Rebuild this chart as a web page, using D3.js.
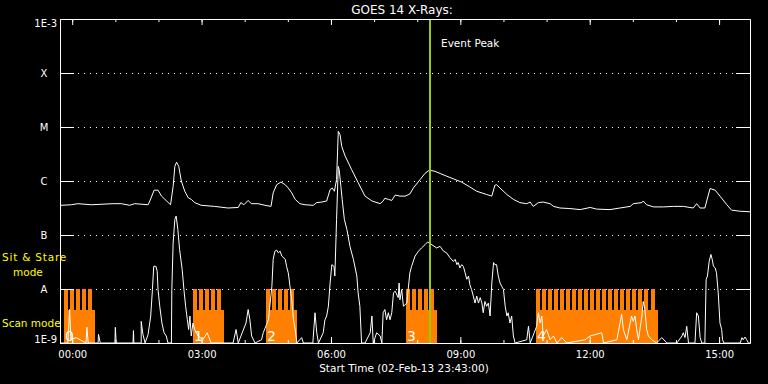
<!DOCTYPE html>
<html>
<head>
<meta charset="utf-8">
<script src="https://cdn.jsdelivr.net/npm/d3@7"></script>
<style>
  body { margin: 0; background: #000; }
</style>
</head>
<body>
<div id="chart"></div>
<script>
// hours relative to 00:00 on 03-Feb-13 (start 23:43 the day before)
const timeDomain = [-0.2833, 15.7167];
const hourTicks = [0, 1, 2, 3, 4, 5, 6, 7, 8, 9, 10, 11, 12, 13, 14, 15];
const labelHours = [0, 3, 6, 9, 12, 15];
const hourLabels = ["00:00", "03:00", "06:00", "09:00", "12:00", "15:00"];

const fluxTicks = [1e-9, 1e-8, 1e-7, 1e-6, 1e-5, 1e-4, 1e-3];
const fluxLabels = ["1E-9", "A", "B", "C", "M", "X", "1E-3"];

const eventPeak = 8.30;

// scan mode intervals [start, end] in hours, with their numbers
const scanBlocks = [[-0.19, 0.53], [2.80, 3.51], [4.49, 5.21], [7.74, 8.46], [10.75, 13.58]];
const blockLabels = ["0", "1", "2", "3", "4"];
// sit & stare exposures (start hours) inside each block
const stareStarts = [
  [-0.19, -0.05, 0.09, 0.23, 0.37],
  [2.80, 2.94, 3.08, 3.22, 3.36],
  [4.49, 4.63, 4.77, 4.91, 5.05],
  [7.74, 7.88, 8.02, 8.16, 8.30],
  [10.75, 10.89, 11.03, 11.17, 11.31, 11.45, 11.59, 11.73, 11.87, 12.01,
   12.15, 12.29, 12.43, 12.57, 12.71, 12.85, 12.99, 13.13, 13.27, 13.41]
];
const stareDuration = 0.093;

// [hour, log10 flux W/m^2]  1-8 A channel
const longChannel = [
  [-0.27,-6.45],[-0.02,-6.44],[0.13,-6.42],[0.44,-6.44],[0.95,-6.42],[1.14,-6.42],[1.33,-6.45],[1.45,-6.42],
  [1.76,-6.44],[1.80,-6.37],[1.90,-6.17],[1.99,-6.17],[2.07,-6.28],[2.15,-6.34],[2.28,-6.44],[2.34,-6.10],
  [2.38,-5.73],[2.42,-5.65],[2.47,-5.73],[2.53,-6.00],[2.61,-6.19],[2.69,-6.31],[2.76,-6.34],[2.84,-6.40],
  [2.99,-6.45],[3.30,-6.47],[3.61,-6.50],[3.85,-6.49],[3.91,-6.40],[3.98,-6.44],[4.08,-6.36],[4.15,-6.42],
  [4.31,-6.42],[4.47,-6.45],[4.61,-6.47],[4.66,-6.22],[4.74,-6.07],[4.84,-6.02],[4.94,-6.07],[5.01,-6.13],
  [5.09,-6.22],[5.17,-6.34],[5.28,-6.42],[5.40,-6.44],[5.59,-6.45],[5.67,-6.40],[5.79,-6.39],[5.90,-6.37],
  [5.98,-6.16],[6.03,-6.13],[6.08,-6.19],[6.13,-5.97],[6.17,-5.08],[6.21,-5.14],[6.25,-5.36],[6.33,-5.54],
  [6.48,-5.79],[6.63,-6.03],[6.79,-6.28],[6.95,-6.37],[7.14,-6.42],[7.21,-6.37],[7.25,-6.32],[7.33,-6.34],
  [7.41,-6.36],[7.49,-6.26],[7.60,-6.28],[7.72,-6.28],[7.83,-6.24],[7.91,-6.13],[8.07,-5.97],[8.18,-5.86],
  [8.28,-5.80],[8.41,-5.82],[8.53,-5.86],[8.68,-5.91],[8.84,-5.96],[9.03,-6.02],[9.22,-6.11],[9.38,-6.19],
  [9.61,-6.25],[9.73,-6.28],[9.80,-6.08],[9.84,-6.07],[9.92,-6.13],[10.08,-6.25],[10.23,-6.34],[10.38,-6.40],
  [10.54,-6.42],[10.62,-6.39],[10.69,-6.47],[10.81,-6.40],[10.92,-6.39],[11.08,-6.42],[11.16,-6.47],[11.31,-6.50],
  [11.54,-6.51],[11.78,-6.53],[12.01,-6.49],[12.16,-6.52],[12.47,-6.53],[12.70,-6.50],[12.94,-6.47],[13.01,-6.42],
  [13.21,-6.40],[13.24,-6.37],[13.32,-6.44],[13.48,-6.48],[13.71,-6.48],[13.94,-6.47],[14.17,-6.47],[14.40,-6.50],
  [14.48,-6.42],[14.56,-6.50],[14.67,-6.50],[14.79,-6.14],[14.91,-6.17],[15.02,-6.28],[15.18,-6.44],[15.29,-6.54],
  [15.49,-6.56],[15.72,-6.57]
];

// [hour, log10 flux W/m^2]  0.5-4 A channel
const shortChannel = [
  [-0.28,-9],[-0.10,-9],[-0.06,-8.38],[-0.03,-8.94],[0.09,-8.90],[0.32,-9],[0.34,-8.71],[0.37,-9],[0.60,-9],
  [0.61,-8.84],[0.65,-9],[0.99,-9],[1.00,-8.71],[1.02,-9],[1.41,-9],[1.42,-8.77],[1.43,-9],[1.60,-9],[1.60,-8.60],
  [1.64,-8.84],[1.69,-9],[1.76,-8.84],[1.82,-8.50],[1.86,-8.01],[1.89,-7.58],[1.94,-7.58],[1.97,-7.67],[1.99,-8.01],
  [2.03,-8.32],[2.08,-8.63],[2.13,-8.81],[2.18,-8.87],[2.22,-9],[2.30,-9],[2.31,-8.01],[2.34,-7.15],[2.38,-6.71],
  [2.41,-6.65],[2.45,-6.90],[2.49,-7.27],[2.55,-7.64],[2.59,-8.01],[2.63,-8.32],[2.67,-8.57],[2.70,-8.75],[2.73,-8.50],
  [2.76,-8.87],[2.80,-8.63],[2.84,-8.75],[2.92,-8.87],[3.03,-8.94],[3.13,-8.81],[3.22,-9],[3.73,-9],[3.80,-8.75],
  [3.85,-9],[4.03,-8.63],[4.08,-8.38],[4.12,-8.57],[4.16,-8.87],[4.24,-9],[4.39,-8.94],[4.43,-8.81],[4.55,-8.57],
  [4.63,-7.95],[4.66,-7.45],[4.70,-7.30],[4.74,-7.28],[4.78,-7.33],[4.82,-7.30],[4.86,-7.39],[4.94,-7.45],[4.97,-7.58],
  [5.01,-7.70],[5.05,-7.95],[5.09,-8.20],[5.13,-8.57],[5.17,-8.75],[5.21,-9],[5.32,-8.90],[5.36,-9],[5.58,-9],
  [5.63,-8.44],[5.67,-8.81],[5.71,-9],[5.82,-8.81],[5.86,-8.57],[5.90,-8.50],[5.94,-8.32],[5.98,-7.89],[6.02,-7.55],
  [6.07,-7.58],[6.09,-7.76],[6.13,-6.71],[6.16,-5.97],[6.17,-5.73],[6.19,-5.79],[6.23,-6.10],[6.26,-6.34],[6.31,-6.71],
  [6.37,-6.90],[6.44,-7.21],[6.52,-7.45],[6.60,-7.76],[6.63,-8.07],[6.67,-8.32],[6.71,-9],[6.79,-9],[6.91,-8.81],
  [6.95,-8.50],[6.98,-9],[7.06,-8.81],[7.14,-8.87],[7.18,-9],[7.21,-8.44],[7.25,-8.38],[7.29,-8.57],[7.33,-8.44],
  [7.37,-8.57],[7.41,-8.44],[7.45,-8.07],[7.49,-8.04],[7.56,-8.16],[7.58,-7.89],[7.60,-8.20],[7.64,-8.01],[7.68,-8.32],
  [7.76,-8.26],[7.79,-8.01],[7.83,-7.70],[7.87,-7.58],[7.95,-7.39],[8.03,-7.30],[8.10,-7.24],[8.18,-7.18],[8.24,-7.13],
  [8.34,-7.18],[8.45,-7.24],[8.53,-7.21],[8.61,-7.30],[8.68,-7.33],[8.76,-7.42],[8.84,-7.49],[8.88,-7.45],[8.92,-7.55],
  [8.95,-7.51],[8.99,-7.61],[9.03,-7.55],[9.07,-7.58],[9.11,-7.70],[9.15,-7.82],[9.19,-7.76],[9.22,-7.92],[9.26,-8.01],
  [9.30,-8.13],[9.34,-8.26],[9.38,-8.13],[9.42,-8.26],[9.46,-8.16],[9.50,-8.26],[9.53,-8.44],[9.57,-8.23],[9.61,-8.32],
  [9.65,-8.26],[9.69,-8.50],[9.73,-7.89],[9.77,-7.51],[9.80,-7.55],[9.84,-7.55],[9.88,-7.76],[9.92,-7.89],[9.96,-7.95],
  [10.00,-8.01],[10.04,-8.32],[10.08,-8.50],[10.11,-8.44],[10.15,-8.63],[10.19,-8.50],[10.23,-8.87],[10.27,-9],
  [10.54,-8.94],[10.58,-8.69],[10.62,-9],[10.77,-8.69],[10.81,-8.44],[10.85,-8.63],[10.89,-8.50],[10.92,-8.87],
  [11.00,-8.75],[11.08,-8.94],[11.16,-8.87],[11.24,-9],[11.35,-8.90],[11.47,-9],[11.89,-8.94],[12.01,-8.87],
  [12.28,-8.81],[12.32,-9],[12.63,-8.94],[12.74,-8.47],[12.78,-8.75],[12.86,-8.94],[12.97,-8.50],[13.01,-8.60],
  [13.05,-8.50],[13.09,-8.75],[13.13,-8.94],[13.21,-8.50],[13.24,-8.23],[13.28,-8.38],[13.32,-8.75],[13.36,-8.87],
  [13.44,-8.94],[13.55,-9],[13.67,-8.90],[13.79,-9],[14.02,-9],[14.14,-8.87],[14.17,-8.81],[14.21,-8.90],[14.25,-8.69],
  [14.29,-9],[14.44,-9],[14.48,-8.44],[14.52,-8.50],[14.56,-8.90],[14.60,-9],[14.67,-9],[14.70,-7.82],[14.73,-7.76],
  [14.77,-7.49],[14.81,-7.36],[14.84,-7.45],[14.87,-7.58],[14.91,-7.61],[14.94,-7.70],[14.98,-8.07],[15.02,-8.63],
  [15.06,-8.75],[15.08,-8.94],[15.11,-9],[15.49,-9],[15.53,-8.90],[15.56,-8.94],[15.60,-8.89],[15.64,-8.94],
  [15.68,-9],[15.72,-9]
];

const width = 768, height = 384;
const plotLeft = 60, plotRight = 750, plotTop = 19, plotBottom = 343;
const orange = "#ff8000", green = "#99cc00", yellow = "#ffff00";

const svg = d3.select("#chart").append("svg")
  .attr("width", width)
  .attr("height", height)
  .style("background", "#000")
  .style("font-family", "'DejaVu Sans', sans-serif");

const x = d3.scaleLinear().domain(timeDomain).range([plotLeft, plotRight]);
const y = d3.scaleLog().domain([1e-9, 1e-3]).range([plotBottom, plotTop]);

// dotted level lines
svg.append("g").selectAll("line")
  .data(fluxTicks.slice(1, -1))
  .join("line")
  .attr("x1", plotLeft + 18).attr("x2", plotRight - 14)
  .attr("y1", d => y(d) + 0.5).attr("y2", d => y(d) + 0.5)
  .attr("stroke", "#fff")
  .attr("stroke-dasharray", "1,5");

// scan mode / sit & stare blocks
const blocks = svg.append("g").attr("fill", orange);
const toothTop = Math.round(y(1e-8));
const scanTop = toothTop + 21;
scanBlocks.forEach(([s, e], i) => {
  const x0 = Math.round(x(s)), x1 = Math.round(x(e));
  blocks.append("rect")
    .attr("x", x0).attr("width", x1 - x0)
    .attr("y", scanTop).attr("height", plotBottom - scanTop);
  blocks.selectAll(null)
    .data(stareStarts[i])
    .enter().append("rect")
    .attr("x", d => Math.round(x(d)))
    .attr("width", d => Math.round(x(d + stareDuration)) - Math.round(x(d)))
    .attr("y", toothTop).attr("height", plotBottom - toothTop);
  svg.append("text")
    .attr("x", x0 + 1).attr("y", plotBottom - 2)
    .attr("fill", "#fff")
    .attr("font-size", 14)
    .text(blockLabels[i]);
});

// curves
const line = d3.line()
  .x(d => x(d[0]))
  .y(d => y(Math.pow(10, d[1])));

svg.append("path")
  .attr("d", line(shortChannel))
  .attr("fill", "none")
  .attr("stroke", "#fff")
  .attr("stroke-width", 1);

svg.append("path")
  .attr("d", line(longChannel))
  .attr("fill", "none")
  .attr("stroke", "#fff")
  .attr("stroke-width", 1);

// event peak marker
const xp = Math.round(x(eventPeak));
svg.append("line")
  .attr("x1", xp).attr("x2", xp)
  .attr("y1", plotTop).attr("y2", plotBottom)
  .attr("stroke", green)
  .attr("stroke-width", 2);
svg.append("text")
  .attr("x", xp + 11).attr("y", 47)
  .attr("fill", "#fff").attr("font-size", 10.5)
  .text("Event Peak");

// axes
const yAxisLeft = svg.append("g")
  .attr("transform", `translate(${plotLeft},0)`)
  .attr("color", "#fff")
  .call(d3.axisLeft(y).tickValues(fluxTicks).tickSize(-14).tickSizeOuter(0)
    .tickFormat((d, i) => fluxLabels[i]));
yAxisLeft.selectAll("text")
  .attr("font-family", "'DejaVu Sans', sans-serif")
  .attr("font-size", 10)
  .attr("text-anchor", (d, i) => (i === 0 || i === fluxTicks.length - 1) ? "end" : "middle")
  .attr("x", (d, i) => (i === 0 || i === fluxTicks.length - 1) ? -3 : -16)
  .attr("dy", (d, i) => i === 0 ? "-0.05em" : (i === fluxTicks.length - 1 ? "0.75em" : "0.35em"));

svg.append("g")
  .attr("transform", `translate(${plotRight},0)`)
  .attr("color", "#fff")
  .call(d3.axisRight(y).tickValues(fluxTicks).tickSize(-14).tickSizeOuter(0).tickFormat(""));

svg.append("g")
  .attr("transform", `translate(0,${plotTop})`)
  .attr("color", "#fff")
  .call(d3.axisTop(x).tickValues(hourTicks).tickSize(-3).tickSizeOuter(0).tickFormat(""));
svg.append("g")
  .attr("transform", `translate(0,${plotTop})`)
  .attr("color", "#fff")
  .call(d3.axisTop(x).tickValues(labelHours).tickSize(-6).tickSizeOuter(0).tickFormat(""));

svg.append("g")
  .attr("transform", `translate(0,${plotBottom})`)
  .attr("color", "#fff")
  .call(d3.axisBottom(x).tickValues(hourTicks).tickSize(-3).tickSizeOuter(0).tickFormat(""));
const xAxis = svg.append("g")
  .attr("transform", `translate(0,${plotBottom})`)
  .attr("color", "#fff")
  .call(d3.axisBottom(x).tickValues(labelHours).tickSize(-6).tickSizeOuter(0).tickPadding(8)
    .tickFormat((d, i) => hourLabels[i]));
xAxis.selectAll("text")
  .attr("font-family", "'DejaVu Sans', sans-serif")
  .attr("font-size", 10);

// titles and mode labels
svg.append("text")
  .attr("x", 402).attr("y", 14)
  .attr("text-anchor", "middle")
  .attr("fill", "#fff").attr("font-size", 12)
  .text("GOES 14 X-Rays:");

svg.append("text")
  .attr("x", 404).attr("y", 372)
  .attr("text-anchor", "middle")
  .attr("fill", "#fff").attr("font-size", 10.5)
  .text("Start Time (02-Feb-13 23:43:00)");

svg.append("text")
  .attr("x", 2).attr("y", 261)
  .attr("fill", yellow).attr("font-size", 10.5)
  .attr("letter-spacing", 0.8)
  .text("Sit & Stare");
svg.append("text")
  .attr("x", 13).attr("y", 276)
  .attr("fill", yellow).attr("font-size", 10.5)
  .text("mode");
svg.append("text")
  .attr("x", 2).attr("y", 327)
  .attr("fill", yellow).attr("font-size", 10.5)
  .text("Scan mode");
</script>
</body>
</html>
